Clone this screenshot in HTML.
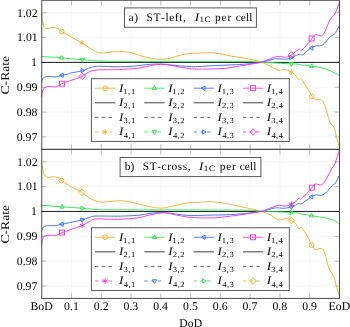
<!DOCTYPE html>
<html><head><meta charset="utf-8"><style>
html,body{margin:0;padding:0;background:#fff;}
svg{display:block;}
text{font-family:"Liberation Serif",serif;fill:#000;text-rendering:geometricPrecision;font-kerning:none;font-variant-ligatures:none;}
.tk{font-size:11.3px;}
.tt{font-size:10.8px;}
.lg{font-size:11px;}
.it{font-style:italic;}
.sub{font-size:7.6px;}
.sub2{font-size:7.6px;}
</style></head><body>
<div style="will-change:transform;width:350px;height:327px"><svg width="350" height="327" viewBox="0 0 350 327">
<rect width="350" height="327" fill="#fff"/>
<path d="M71.53 0.30V149.35M101.30 0.30V149.35M131.07 0.30V149.35M160.85 0.30V149.35M190.62 0.30V149.35M220.40 0.30V149.35M250.18 0.30V149.35M279.95 0.30V149.35M309.73 0.30V149.35M41.75 12.72H339.50M41.75 37.56H339.50M41.75 62.40H339.50M41.75 87.25H339.50M41.75 112.09H339.50M41.75 136.93H339.50" stroke="#ececec" stroke-width="0.5" fill="none"/>
<path d="M71.53 0.30v5M71.53 149.35v-5M101.30 0.30v5M101.30 149.35v-5M131.07 0.30v5M131.07 149.35v-5M160.85 0.30v5M160.85 149.35v-5M190.62 0.30v5M190.62 149.35v-5M220.40 0.30v5M220.40 149.35v-5M250.18 0.30v5M250.18 149.35v-5M279.95 0.30v5M279.95 149.35v-5M309.73 0.30v5M309.73 149.35v-5M41.75 12.72h5M339.50 12.72h-5M41.75 37.56h5M339.50 37.56h-5M41.75 62.40h5M339.50 62.40h-5M41.75 87.25h5M339.50 87.25h-5M41.75 112.09h5M339.50 112.09h-5M41.75 136.93h5M339.50 136.93h-5" stroke="#a8a8a8" stroke-width="0.75" fill="none"/>
<path d="M41.75 62.40H339.50" stroke="#111" stroke-width="0.95"/>
<path d="M41.70 13.80 C41.82 15.00 42.07 18.98 42.40 21.00 C42.73 23.02 43.18 24.68 43.70 25.90 C44.22 27.12 44.68 27.85 45.50 28.30 C46.32 28.75 47.48 28.73 48.60 28.60 C49.72 28.47 51.08 27.70 52.20 27.50 C53.32 27.30 54.28 27.15 55.30 27.40 C56.32 27.65 57.22 28.30 58.30 29.00 C59.38 29.70 60.37 30.68 61.80 31.60 C63.23 32.52 65.03 33.45 66.90 34.50 C68.77 35.55 70.85 36.68 73.00 37.90 C75.15 39.12 77.18 40.23 79.80 41.80 C82.42 43.37 86.07 45.67 88.70 47.30 C91.33 48.93 93.60 50.67 95.60 51.60 C97.60 52.53 98.98 52.70 100.70 52.90 C102.42 53.10 103.90 52.97 105.90 52.80 C107.90 52.63 110.42 52.10 112.70 51.90 C114.98 51.70 117.32 51.57 119.60 51.60 C121.88 51.63 124.67 51.97 126.40 52.10 C128.13 52.23 127.97 51.92 130.00 52.40 C132.03 52.88 135.75 54.13 138.60 55.00 C141.45 55.87 144.25 56.95 147.10 57.60 C149.95 58.25 153.40 58.60 155.70 58.90 C158.00 59.20 158.90 59.42 160.90 59.40 C162.90 59.38 165.13 59.30 167.70 58.80 C170.27 58.30 173.43 57.18 176.30 56.40 C179.17 55.62 182.02 54.60 184.90 54.10 C187.78 53.60 190.73 53.58 193.60 53.40 C196.47 53.22 199.53 53.10 202.10 53.00 C204.67 52.90 206.70 52.77 209.00 52.80 C211.30 52.83 213.62 52.93 215.90 53.20 C218.18 53.47 220.13 53.92 222.70 54.40 C225.27 54.88 228.43 55.60 231.30 56.10 C234.17 56.60 237.02 56.93 239.90 57.40 C242.78 57.87 245.73 58.32 248.60 58.90 C251.47 59.48 254.97 60.35 257.10 60.90 C259.23 61.45 259.97 61.68 261.40 62.20 C262.83 62.72 263.55 62.98 265.70 64.00 C267.85 65.02 272.08 67.20 274.30 68.30 C276.52 69.40 277.62 70.38 279.00 70.60 C280.38 70.82 281.23 69.67 282.60 69.60 C283.97 69.53 285.75 69.80 287.20 70.20 C288.65 70.60 290.08 71.30 291.30 72.00 C292.52 72.70 293.62 73.58 294.50 74.40 C295.38 75.22 295.92 76.07 296.60 76.90 C297.28 77.73 297.87 79.07 298.60 79.40 C299.33 79.73 300.20 78.47 301.00 78.90 C301.80 79.33 302.35 80.43 303.40 82.00 C304.45 83.57 306.27 86.60 307.30 88.30 C308.33 90.00 308.82 90.87 309.60 92.20 C310.38 93.53 311.08 95.03 312.00 96.30 C312.92 97.57 314.10 99.27 315.10 99.80 C316.10 100.33 317.17 99.60 318.00 99.50 C318.83 99.40 319.32 98.97 320.10 99.20 C320.88 99.43 321.85 99.63 322.70 100.90 C323.55 102.17 324.37 104.43 325.20 106.80 C326.03 109.17 326.87 112.45 327.70 115.10 C328.53 117.75 329.22 120.73 330.20 122.70 C331.18 124.67 332.75 125.37 333.60 126.90 C334.45 128.43 334.75 129.93 335.30 131.90 C335.85 133.87 336.25 136.27 336.90 138.70 C337.55 141.13 338.82 145.20 339.20 146.50" stroke="#F3B03C" stroke-width="0.95" fill="none" stroke-linejoin="round"/>
<path d="M41.70 56.30 C42.85 56.42 46.38 56.85 48.60 57.00 C50.82 57.15 52.83 57.05 55.00 57.20 C57.17 57.35 58.95 57.63 61.60 57.90 C64.25 58.17 67.45 58.50 70.90 58.80 C74.35 59.10 78.88 59.42 82.30 59.70 C85.72 59.98 88.45 60.28 91.40 60.50 C94.35 60.72 96.07 60.87 100.00 61.00 C103.93 61.13 108.33 61.23 115.00 61.30 C121.67 61.37 129.17 61.38 140.00 61.40 C150.83 61.42 166.67 61.40 180.00 61.40 C193.33 61.40 208.33 61.38 220.00 61.40 C231.67 61.42 243.10 61.37 250.00 61.50 C256.90 61.63 258.07 62.02 261.40 62.20 C264.73 62.38 267.23 62.43 270.00 62.60 C272.77 62.77 275.50 63.03 278.00 63.20 C280.50 63.37 282.78 63.48 285.00 63.60 C287.22 63.72 289.10 63.80 291.30 63.90 C293.50 64.00 296.32 63.98 298.20 64.20 C300.08 64.42 301.35 65.05 302.60 65.20 C303.85 65.35 304.13 64.90 305.70 65.10 C307.27 65.30 309.90 66.07 312.00 66.40 C314.10 66.73 316.20 66.73 318.30 67.10 C320.40 67.47 322.50 67.95 324.60 68.60 C326.70 69.25 329.07 70.20 330.90 71.00 C332.73 71.80 334.22 72.70 335.60 73.40 C336.98 74.10 338.60 74.90 339.20 75.20" stroke="#36E256" stroke-width="0.95" fill="none" stroke-linejoin="round"/>
<path d="M41.70 82.40 C41.77 82.02 41.80 80.87 42.10 80.10 C42.40 79.33 42.80 78.38 43.50 77.80 C44.20 77.22 45.23 76.83 46.30 76.60 C47.37 76.37 48.53 76.35 49.90 76.40 C51.27 76.45 53.12 76.90 54.50 76.90 C55.88 76.90 56.95 76.67 58.20 76.40 C59.45 76.13 60.47 75.68 62.00 75.30 C63.53 74.92 65.92 74.48 67.40 74.10 C68.88 73.72 68.37 73.57 70.90 73.00 C73.43 72.43 79.55 71.53 82.60 70.70 C85.65 69.87 87.13 68.70 89.20 68.00 C91.27 67.30 93.20 66.80 95.00 66.50 C96.80 66.20 97.17 66.17 100.00 66.20 C102.83 66.23 107.17 66.65 112.00 66.70 C116.83 66.75 124.33 66.72 129.00 66.50 C133.67 66.28 136.45 65.77 140.00 65.40 C143.55 65.03 146.87 64.53 150.30 64.30 C153.73 64.07 157.17 63.90 160.60 64.00 C164.03 64.10 167.48 64.57 170.90 64.90 C174.32 65.23 177.68 65.72 181.10 66.00 C184.52 66.28 188.25 66.52 191.40 66.60 C194.55 66.68 196.55 66.65 200.00 66.50 C203.45 66.35 207.22 65.95 212.10 65.70 C216.98 65.45 224.15 65.23 229.30 65.00 C234.45 64.77 238.72 64.62 243.00 64.30 C247.28 63.98 251.93 63.45 255.00 63.10 C258.07 62.75 259.57 62.55 261.40 62.20 C263.23 61.85 264.57 61.33 266.00 61.00 C267.43 60.67 268.62 60.53 270.00 60.20 C271.38 59.87 272.97 59.22 274.30 59.00 C275.63 58.78 276.47 58.87 278.00 58.90 C279.53 58.93 281.90 59.17 283.50 59.20 C285.10 59.23 286.30 59.37 287.60 59.10 C288.90 58.83 290.08 58.10 291.30 57.60 C292.52 57.10 293.83 56.57 294.90 56.10 C295.97 55.63 296.78 55.10 297.70 54.80 C298.62 54.50 299.63 54.27 300.40 54.30 C301.17 54.33 301.53 55.23 302.30 55.00 C303.07 54.77 303.93 53.78 305.00 52.90 C306.07 52.02 307.60 50.55 308.70 49.70 C309.80 48.85 310.45 48.43 311.60 47.80 C312.75 47.17 314.28 46.22 315.60 45.90 C316.92 45.58 318.35 46.03 319.50 45.90 C320.65 45.77 321.37 45.87 322.50 45.10 C323.63 44.33 325.15 42.57 326.30 41.30 C327.45 40.03 328.37 38.52 329.40 37.50 C330.43 36.48 331.48 35.97 332.50 35.20 C333.52 34.43 334.62 34.05 335.50 32.90 C336.38 31.75 337.15 29.42 337.80 28.30 C338.45 27.18 339.13 26.55 339.40 26.20" stroke="#3F72EC" stroke-width="0.95" fill="none" stroke-linejoin="round"/>
<path d="M41.70 96.60 C41.77 95.98 41.80 94.20 42.10 92.90 C42.40 91.60 42.80 89.78 43.50 88.80 C44.20 87.82 45.23 87.38 46.30 87.00 C47.37 86.62 48.53 86.50 49.90 86.50 C51.27 86.50 53.12 87.07 54.50 87.00 C55.88 86.93 56.95 86.65 58.20 86.10 C59.45 85.55 60.47 84.47 62.00 83.70 C63.53 82.93 65.92 82.05 67.40 81.50 C68.88 80.95 68.42 81.25 70.90 80.40 C73.38 79.55 79.25 77.83 82.30 76.40 C85.35 74.97 87.08 72.83 89.20 71.80 C91.32 70.77 92.60 70.55 95.00 70.20 C97.40 69.85 99.88 69.78 103.60 69.70 C107.32 69.62 113.02 69.83 117.30 69.70 C121.58 69.57 125.52 69.18 129.30 68.90 C133.08 68.62 136.50 68.53 140.00 68.00 C143.50 67.47 146.87 66.32 150.30 65.70 C153.73 65.08 157.17 64.35 160.60 64.30 C164.03 64.25 167.48 64.88 170.90 65.40 C174.32 65.92 177.68 66.83 181.10 67.40 C184.52 67.97 188.25 68.52 191.40 68.80 C194.55 69.08 197.68 69.05 200.00 69.10 C202.32 69.15 202.70 69.15 205.30 69.10 C207.90 69.05 212.17 68.93 215.60 68.80 C219.03 68.67 222.48 68.67 225.90 68.30 C229.32 67.93 232.68 67.17 236.10 66.60 C239.52 66.03 243.25 65.42 246.40 64.90 C249.55 64.38 252.50 63.95 255.00 63.50 C257.50 63.05 259.57 62.72 261.40 62.20 C263.23 61.68 264.57 60.95 266.00 60.40 C267.43 59.85 268.62 59.42 270.00 58.90 C271.38 58.38 272.97 57.70 274.30 57.30 C275.63 56.90 276.55 56.55 278.00 56.50 C279.45 56.45 281.40 56.92 283.00 57.00 C284.60 57.08 286.22 57.33 287.60 57.00 C288.98 56.67 290.23 55.68 291.30 55.00 C292.37 54.32 293.08 53.63 294.00 52.90 C294.92 52.17 295.88 51.20 296.80 50.60 C297.72 50.00 298.75 49.35 299.50 49.30 C300.25 49.25 300.53 50.53 301.30 50.30 C302.07 50.07 303.02 48.98 304.10 47.90 C305.18 46.82 306.80 44.95 307.80 43.80 C308.80 42.65 309.47 41.83 310.10 41.00 C310.73 40.17 310.80 39.82 311.60 38.80 C312.40 37.78 313.97 35.55 314.90 34.90 C315.83 34.25 316.32 34.75 317.20 34.90 C318.08 35.05 319.32 35.75 320.20 35.80 C321.08 35.85 321.73 35.82 322.50 35.20 C323.27 34.58 323.90 33.88 324.80 32.10 C325.70 30.32 326.88 26.80 327.90 24.50 C328.92 22.20 329.88 19.83 330.90 18.30 C331.92 16.77 333.10 16.57 334.00 15.30 C334.90 14.03 335.53 12.48 336.30 10.70 C337.07 8.92 338.08 6.05 338.60 4.60 C339.12 3.15 339.27 2.43 339.40 2.00" stroke="#F03CD8" stroke-width="0.95" fill="none" stroke-linejoin="round"/>
<circle cx="61.80" cy="31.60" r="2.40" fill="none" stroke="#F3B03C" stroke-width="0.95"/>
<path d="M82.00 40.00L82.00 45.40M84.34 41.35L79.66 44.05M84.34 44.05L79.66 41.35" stroke="#F3B03C" stroke-width="0.95" fill="none"/>
<path d="M291.30 69.30L291.30 74.70M293.64 70.65L288.96 73.35M293.64 73.35L288.96 70.65" stroke="#F3B03C" stroke-width="0.95" fill="none"/>
<circle cx="311.90" cy="96.30" r="2.40" fill="none" stroke="#F3B03C" stroke-width="0.95"/>
<path d="M61.70 55.40L63.88 59.15L59.53 59.15Z" fill="none" stroke="#36E256" stroke-width="0.95"/>
<path d="M82.20 62.10L84.38 58.35L80.03 58.35Z" fill="none" stroke="#36E256" stroke-width="0.95"/>
<path d="M291.30 66.30L293.48 62.55L289.12 62.55Z" fill="none" stroke="#36E256" stroke-width="0.95"/>
<path d="M311.90 63.80L314.07 67.55L309.72 67.55Z" fill="none" stroke="#36E256" stroke-width="0.95"/>
<path d="M59.50 75.30L63.25 73.12L63.25 77.47Z" fill="none" stroke="#3F72EC" stroke-width="0.95"/>
<path d="M84.90 70.60L81.15 68.42L81.15 72.77Z" fill="none" stroke="#3F72EC" stroke-width="0.95"/>
<path d="M293.50 57.50L289.75 55.33L289.75 59.67Z" fill="none" stroke="#3F72EC" stroke-width="0.95"/>
<path d="M309.10 48.00L312.85 45.83L312.85 50.17Z" fill="none" stroke="#3F72EC" stroke-width="0.95"/>
<rect x="59.50" y="81.20" width="5.00" height="5.00" fill="none" stroke="#F03CD8" stroke-width="0.95"/>
<path d="M82.30 73.10L85.60 76.40L82.30 79.70L79.00 76.40Z" fill="none" stroke="#F03CD8" stroke-width="0.95"/>
<path d="M291.30 51.60L294.60 54.90L291.30 58.20L288.00 54.90Z" fill="none" stroke="#F03CD8" stroke-width="0.95"/>
<rect x="309.10" y="36.00" width="5.00" height="5.00" fill="none" stroke="#F03CD8" stroke-width="0.95"/>
<text transform="matrix(1.1800 0 0 1.1800 17.00 16.52)" font-size="10">1.02</text>
<text transform="matrix(1.1800 0 0 1.1800 17.06 41.36)" font-size="10">1.01</text>
<text transform="matrix(1.1800 0 0 1.1800 31.11 66.20)" font-size="10">1</text>
<text transform="matrix(1.1800 0 0 1.1800 16.83 91.05)" font-size="10">0.99</text>
<text transform="matrix(1.1800 0 0 1.1800 16.80 115.89)" font-size="10">0.98</text>
<text transform="matrix(1.1800 0 0 1.1800 16.69 140.73)" font-size="10">0.97</text>
<g transform="translate(8.80 75.12) rotate(-90)"><text transform="matrix(1.3639 0 0 1.1900 -19.36 0)" font-size="10">C-Rate</text></g>
<rect x="124.45" y="7.90" width="131.95" height="19.40" fill="#fff" stroke="#505050" stroke-width="0.95"/>
<text x="128.40" y="21.10" font-size="11.40" letter-spacing="0.746">a)</text><text x="146.54" y="21.10" font-size="11.40" letter-spacing="0.606">ST-left,</text><text transform="matrix(1.3110 0 0 1.1400 194.69 21.10)" font-size="10" font-style="italic">I</text><text transform="matrix(0.9020 0 0 0.8200 199.41 22.30)" font-size="10" letter-spacing="0.625">1C</text><text x="215.12" y="21.10" font-size="11.40" letter-spacing="0.814">per</text><text x="235.67" y="21.10" font-size="11.40" letter-spacing="0.069">cell</text>
<rect x="91.40" y="78.70" width="197.90" height="62.70" fill="#fff" stroke="#505050" stroke-width="0.95"/>
<path d="M95.00 88.20h20.3" stroke="#F3B03C" stroke-width="0.85"/>
<circle cx="105.15" cy="88.20" r="2.40" fill="none" stroke="#F3B03C" stroke-width="0.95"/>
<text transform="matrix(1.3110 0 0 1.1400 118.89 91.50)" font-size="10" font-style="italic">I</text>
<text transform="matrix(0.8580 0 0 0.7800 123.05 93.80)" font-size="10" letter-spacing="0.900">1,1</text>
<path d="M144.30 88.20h20.3" stroke="#36E256" stroke-width="0.85"/>
<path d="M154.45 85.70L156.63 89.45L152.28 89.45Z" fill="none" stroke="#36E256" stroke-width="0.95"/>
<text transform="matrix(1.3110 0 0 1.1400 168.19 91.50)" font-size="10" font-style="italic">I</text>
<text transform="matrix(0.8580 0 0 0.7800 172.35 93.80)" font-size="10" letter-spacing="0.876">1,2</text>
<path d="M193.60 88.20h20.3" stroke="#3F72EC" stroke-width="0.85"/>
<path d="M201.25 88.20L205.00 86.03L205.00 90.38Z" fill="none" stroke="#3F72EC" stroke-width="0.95"/>
<text transform="matrix(1.3110 0 0 1.1400 217.49 91.50)" font-size="10" font-style="italic">I</text>
<text transform="matrix(0.8580 0 0 0.7800 221.65 93.80)" font-size="10" letter-spacing="0.795">1,3</text>
<path d="M242.90 88.20h20.3" stroke="#F03CD8" stroke-width="0.85"/>
<rect x="250.55" y="85.70" width="5.00" height="5.00" fill="none" stroke="#F03CD8" stroke-width="0.95"/>
<text transform="matrix(1.3110 0 0 1.1400 266.79 91.50)" font-size="10" font-style="italic">I</text>
<text transform="matrix(0.8580 0 0 0.7800 270.95 93.80)" font-size="10" letter-spacing="0.678">1,4</text>
<path d="M95.00 102.75h20.3" stroke="#5a5a5a" stroke-width="1.15"/>
<text transform="matrix(1.3110 0 0 1.1400 118.89 106.05)" font-size="10" font-style="italic">I</text>
<text transform="matrix(0.8580 0 0 0.7800 123.42 108.35)" font-size="10" letter-spacing="0.680">2,1</text>
<path d="M144.30 102.75h20.3" stroke="#5a5a5a" stroke-width="1.15"/>
<text transform="matrix(1.3110 0 0 1.1400 168.19 106.05)" font-size="10" font-style="italic">I</text>
<text transform="matrix(0.8580 0 0 0.7800 172.72 108.35)" font-size="10" letter-spacing="0.656">2,2</text>
<path d="M193.60 102.75h20.3" stroke="#5a5a5a" stroke-width="1.15"/>
<text transform="matrix(1.3110 0 0 1.1400 217.49 106.05)" font-size="10" font-style="italic">I</text>
<text transform="matrix(0.8580 0 0 0.7800 222.02 108.35)" font-size="10" letter-spacing="0.575">2,3</text>
<path d="M242.90 102.75h20.3" stroke="#5a5a5a" stroke-width="1.15"/>
<text transform="matrix(1.3110 0 0 1.1400 266.79 106.05)" font-size="10" font-style="italic">I</text>
<text transform="matrix(0.8580 0 0 0.7800 271.32 108.35)" font-size="10" letter-spacing="0.458">2,4</text>
<path d="M95.00 117.35h20.3" stroke="#222" stroke-width="0.7" stroke-dasharray="3.4 3.35"/>
<text transform="matrix(1.3110 0 0 1.1400 118.89 120.65)" font-size="10" font-style="italic">I</text>
<text transform="matrix(0.8580 0 0 0.7800 123.39 122.95)" font-size="10" letter-spacing="0.700">3,1</text>
<path d="M144.30 117.35h20.3" stroke="#222" stroke-width="0.7" stroke-dasharray="3.4 3.35"/>
<text transform="matrix(1.3110 0 0 1.1400 168.19 120.65)" font-size="10" font-style="italic">I</text>
<text transform="matrix(0.8580 0 0 0.7800 172.69 122.95)" font-size="10" letter-spacing="0.675">3,2</text>
<path d="M193.60 117.35h20.3" stroke="#222" stroke-width="0.7" stroke-dasharray="3.4 3.35"/>
<text transform="matrix(1.3110 0 0 1.1400 217.49 120.65)" font-size="10" font-style="italic">I</text>
<text transform="matrix(0.8580 0 0 0.7800 221.99 122.95)" font-size="10" letter-spacing="0.595">3,3</text>
<path d="M242.90 117.35h20.3" stroke="#222" stroke-width="0.7" stroke-dasharray="3.4 3.35"/>
<text transform="matrix(1.3110 0 0 1.1400 266.79 120.65)" font-size="10" font-style="italic">I</text>
<text transform="matrix(0.8580 0 0 0.7800 271.29 122.95)" font-size="10" letter-spacing="0.478">3,4</text>
<path d="M95.00 131.95h20.3" stroke="#F3B03C" stroke-width="0.85" stroke-dasharray="3.4 3.35"/>
<path d="M105.15 129.25L105.15 134.65M107.49 130.60L102.81 133.30M107.49 133.30L102.81 130.60" stroke="#F3B03C" stroke-width="0.95" fill="none"/>
<text transform="matrix(1.3110 0 0 1.1400 118.89 135.25)" font-size="10" font-style="italic">I</text>
<text transform="matrix(0.8580 0 0 0.7800 123.63 137.55)" font-size="10" letter-spacing="0.558">4,1</text>
<path d="M144.30 131.95h20.3" stroke="#36E256" stroke-width="0.85" stroke-dasharray="3.4 3.35"/>
<path d="M154.45 134.45L156.63 130.70L152.28 130.70Z" fill="none" stroke="#36E256" stroke-width="0.95"/>
<text transform="matrix(1.3110 0 0 1.1400 168.19 135.25)" font-size="10" font-style="italic">I</text>
<text transform="matrix(0.8580 0 0 0.7800 172.93 137.55)" font-size="10" letter-spacing="0.534">4,2</text>
<path d="M193.60 131.95h20.3" stroke="#3F72EC" stroke-width="0.85" stroke-dasharray="3.4 3.35"/>
<path d="M206.25 131.95L202.50 129.78L202.50 134.13Z" fill="none" stroke="#3F72EC" stroke-width="0.95"/>
<text transform="matrix(1.3110 0 0 1.1400 217.49 135.25)" font-size="10" font-style="italic">I</text>
<text transform="matrix(0.8580 0 0 0.7800 222.23 137.55)" font-size="10" letter-spacing="0.453">4,3</text>
<path d="M242.90 131.95h20.3" stroke="#F03CD8" stroke-width="0.85" stroke-dasharray="3.4 3.35"/>
<path d="M253.05 128.65L256.35 131.95L253.05 135.25L249.75 131.95Z" fill="none" stroke="#F03CD8" stroke-width="0.95"/>
<text transform="matrix(1.3110 0 0 1.1400 266.79 135.25)" font-size="10" font-style="italic">I</text>
<text transform="matrix(0.8580 0 0 0.7800 271.53 137.55)" font-size="10" letter-spacing="0.336">4,4</text>
<rect x="41.75" y="0.30" width="297.75" height="149.05" fill="none" stroke="#4a4a4a" stroke-width="1.0"/>
<path d="M71.53 149.35V298.40M101.30 149.35V298.40M131.07 149.35V298.40M160.85 149.35V298.40M190.62 149.35V298.40M220.40 149.35V298.40M250.18 149.35V298.40M279.95 149.35V298.40M309.73 149.35V298.40M41.75 161.77H339.50M41.75 186.61H339.50M41.75 211.45H339.50M41.75 236.30H339.50M41.75 261.14H339.50M41.75 285.98H339.50" stroke="#ececec" stroke-width="0.5" fill="none"/>
<path d="M71.53 149.35v5M71.53 298.40v-5M101.30 149.35v5M101.30 298.40v-5M131.07 149.35v5M131.07 298.40v-5M160.85 149.35v5M160.85 298.40v-5M190.62 149.35v5M190.62 298.40v-5M220.40 149.35v5M220.40 298.40v-5M250.18 149.35v5M250.18 298.40v-5M279.95 149.35v5M279.95 298.40v-5M309.73 149.35v5M309.73 298.40v-5M41.75 161.77h5M339.50 161.77h-5M41.75 186.61h5M339.50 186.61h-5M41.75 211.45h5M339.50 211.45h-5M41.75 236.30h5M339.50 236.30h-5M41.75 261.14h5M339.50 261.14h-5M41.75 285.98h5M339.50 285.98h-5" stroke="#a8a8a8" stroke-width="0.75" fill="none"/>
<path d="M41.75 211.45H339.50" stroke="#111" stroke-width="0.95"/>
<path d="M41.70 163.80 C41.85 164.55 42.15 166.47 42.60 168.30 C43.05 170.13 43.48 173.27 44.40 174.80 C45.32 176.33 46.57 177.20 48.10 177.50 C49.63 177.80 51.92 176.53 53.60 176.60 C55.28 176.67 56.88 177.23 58.20 177.90 C59.52 178.57 59.67 179.32 61.50 180.60 C63.33 181.88 66.70 184.13 69.20 185.60 C71.70 187.07 74.42 188.28 76.50 189.40 C78.58 190.52 79.87 191.10 81.70 192.30 C83.53 193.50 85.62 195.33 87.50 196.60 C89.38 197.87 91.25 199.07 93.00 199.90 C94.75 200.73 96.52 201.23 98.00 201.60 C99.48 201.97 100.12 202.10 101.90 202.10 C103.68 202.10 105.85 201.83 108.70 201.60 C111.55 201.37 116.13 200.77 119.00 200.70 C121.87 200.63 123.33 200.83 125.90 201.20 C128.47 201.57 131.55 202.27 134.40 202.90 C137.25 203.53 140.13 204.30 143.00 205.00 C145.87 205.70 149.27 206.63 151.60 207.10 C153.93 207.57 154.98 207.65 157.00 207.80 C159.02 207.95 160.58 208.40 163.70 208.00 C166.82 207.60 171.70 206.25 175.70 205.40 C179.70 204.55 183.98 203.42 187.70 202.90 C191.42 202.38 194.28 202.50 198.00 202.30 C201.72 202.10 207.12 201.75 210.00 201.70 C212.88 201.65 212.70 201.72 215.30 202.00 C217.90 202.28 221.60 202.68 225.60 203.40 C229.60 204.12 235.02 205.38 239.30 206.30 C243.58 207.22 247.60 208.07 251.30 208.90 C255.00 209.73 258.72 210.48 261.50 211.30 C264.28 212.12 266.30 213.08 268.00 213.80 C269.70 214.52 270.48 214.83 271.70 215.60 C272.92 216.37 274.08 217.67 275.30 218.40 C276.52 219.13 277.77 219.85 279.00 220.00 C280.23 220.15 281.48 219.53 282.70 219.30 C283.92 219.07 284.85 218.38 286.30 218.60 C287.75 218.82 289.87 219.82 291.40 220.60 C292.93 221.38 294.28 221.97 295.50 223.30 C296.72 224.63 297.73 227.93 298.70 228.60 C299.67 229.27 300.15 226.52 301.30 227.30 C302.45 228.08 304.32 231.30 305.60 233.30 C306.88 235.30 308.00 237.33 309.00 239.30 C310.00 241.27 310.57 243.45 311.60 245.10 C312.63 246.75 313.73 248.63 315.20 249.20 C316.67 249.77 319.02 248.35 320.40 248.50 C321.78 248.65 322.52 248.45 323.50 250.10 C324.48 251.75 325.38 255.33 326.30 258.40 C327.22 261.47 327.93 265.75 329.00 268.50 C330.07 271.25 331.78 273.22 332.70 274.90 C333.62 276.58 333.88 276.75 334.50 278.60 C335.12 280.45 335.62 283.18 336.40 286.00 C337.18 288.82 338.73 293.92 339.20 295.50" stroke="#F3B03C" stroke-width="0.95" fill="none" stroke-linejoin="round"/>
<path d="M41.70 205.30 C43.37 205.43 48.32 205.83 51.70 206.10 C55.08 206.37 58.57 206.68 62.00 206.90 C65.43 207.12 68.93 207.17 72.30 207.40 C75.67 207.63 77.92 207.95 82.20 208.30 C86.48 208.65 93.37 209.25 98.00 209.50 C102.63 209.75 101.33 209.73 110.00 209.80 C118.67 209.87 135.00 209.88 150.00 209.90 C165.00 209.93 184.17 209.90 200.00 209.95 C215.83 210.00 235.83 210.09 245.00 210.20 C254.17 210.31 252.25 210.42 255.00 210.60 C257.75 210.78 258.67 211.12 261.50 211.30 C264.33 211.48 268.58 211.58 272.00 211.70 C275.42 211.82 278.77 211.87 282.00 212.00 C285.23 212.13 288.62 212.30 291.40 212.50 C294.18 212.70 296.92 212.92 298.70 213.20 C300.48 213.48 299.95 213.80 302.10 214.20 C304.25 214.60 308.73 215.13 311.60 215.60 C314.47 216.07 316.58 216.53 319.30 217.00 C322.02 217.47 325.33 217.77 327.90 218.40 C330.47 219.03 332.80 219.88 334.70 220.80 C336.60 221.72 338.53 223.38 339.30 223.90" stroke="#36E256" stroke-width="0.95" fill="none" stroke-linejoin="round"/>
<path d="M41.60 231.50 C41.85 230.82 42.27 228.33 43.10 227.40 C43.93 226.47 45.73 226.20 46.60 225.90 C47.47 225.60 46.88 225.65 48.30 225.60 C49.72 225.55 52.82 225.83 55.10 225.60 C57.38 225.37 59.13 224.78 62.00 224.20 C64.87 223.62 68.93 222.82 72.30 222.10 C75.67 221.38 79.35 220.68 82.20 219.90 C85.05 219.12 87.27 218.03 89.40 217.40 C91.53 216.77 91.78 216.32 95.00 216.10 C98.22 215.88 104.42 216.10 108.70 216.10 C112.98 216.10 115.83 216.23 120.70 216.10 C125.57 215.97 133.02 215.75 137.90 215.30 C142.78 214.85 145.70 213.85 150.00 213.40 C154.30 212.95 159.42 212.50 163.70 212.60 C167.98 212.70 171.70 213.53 175.70 214.00 C179.70 214.47 183.42 215.17 187.70 215.40 C191.98 215.63 197.68 215.45 201.40 215.40 C205.12 215.35 206.55 215.18 210.00 215.10 C213.45 215.02 217.22 215.08 222.10 214.90 C226.98 214.72 234.15 214.38 239.30 214.00 C244.45 213.62 249.30 213.05 253.00 212.60 C256.70 212.15 259.33 211.67 261.50 211.30 C263.67 210.93 264.58 210.73 266.00 210.40 C267.42 210.07 268.67 209.68 270.00 209.30 C271.33 208.92 272.80 208.35 274.00 208.10 C275.20 207.85 275.90 207.78 277.20 207.80 C278.50 207.82 280.28 208.17 281.80 208.20 C283.32 208.23 284.70 208.22 286.30 208.00 C287.90 207.78 289.87 207.33 291.40 206.90 C292.93 206.47 294.28 205.98 295.50 205.40 C296.72 204.82 297.72 203.68 298.70 203.40 C299.68 203.12 300.18 204.17 301.40 203.70 C302.62 203.23 304.32 201.73 306.00 200.60 C307.68 199.47 309.97 197.83 311.50 196.90 C313.03 195.97 313.35 195.32 315.20 195.00 C317.05 194.68 320.45 195.77 322.60 195.00 C324.75 194.23 326.57 191.93 328.10 190.40 C329.63 188.87 330.58 187.02 331.80 185.80 C333.02 184.58 334.17 184.78 335.40 183.10 C336.63 181.42 338.57 176.93 339.20 175.70" stroke="#3F72EC" stroke-width="0.95" fill="none" stroke-linejoin="round"/>
<path d="M41.60 245.90 C41.72 244.83 41.75 241.17 42.30 239.50 C42.85 237.83 43.62 236.62 44.90 235.90 C46.18 235.18 48.30 235.23 50.00 235.20 C51.70 235.17 53.10 236.13 55.10 235.70 C57.10 235.27 59.13 233.72 62.00 232.60 C64.87 231.48 68.93 230.18 72.30 229.00 C75.67 227.82 79.35 226.73 82.20 225.50 C85.05 224.27 87.27 222.68 89.40 221.60 C91.53 220.52 91.78 219.40 95.00 219.00 C98.22 218.60 104.42 219.17 108.70 219.20 C112.98 219.23 115.83 219.42 120.70 219.20 C125.57 218.98 133.02 218.62 137.90 217.90 C142.78 217.18 145.70 215.75 150.00 214.90 C154.30 214.05 159.42 212.80 163.70 212.80 C167.98 212.80 171.70 214.18 175.70 214.90 C179.70 215.62 183.42 216.62 187.70 217.10 C191.98 217.58 196.80 217.68 201.40 217.80 C206.00 217.92 210.42 218.08 215.30 217.80 C220.18 217.52 225.27 216.78 230.70 216.10 C236.13 215.42 242.77 214.50 247.90 213.70 C253.03 212.90 258.48 211.95 261.50 211.30 C264.52 210.65 264.58 210.32 266.00 209.80 C267.42 209.28 268.67 208.72 270.00 208.20 C271.33 207.68 272.80 207.13 274.00 206.70 C275.20 206.27 275.90 205.78 277.20 205.60 C278.50 205.42 280.28 205.53 281.80 205.60 C283.32 205.67 284.70 206.23 286.30 206.00 C287.90 205.77 289.87 204.88 291.40 204.20 C292.93 203.52 294.28 202.87 295.50 201.90 C296.72 200.93 297.87 198.87 298.70 198.40 C299.53 197.93 299.58 199.50 300.50 199.10 C301.42 198.70 302.97 197.08 304.20 196.00 C305.43 194.92 306.62 193.98 307.90 192.60 C309.18 191.22 310.68 189.13 311.90 187.70 C313.12 186.27 313.73 184.47 315.20 184.00 C316.67 183.53 319.17 185.20 320.70 184.90 C322.23 184.60 323.02 184.03 324.40 182.20 C325.78 180.37 327.77 176.20 329.00 173.90 C330.23 171.60 330.88 169.93 331.80 168.40 C332.72 166.87 333.73 166.23 334.50 164.70 C335.27 163.17 335.62 161.50 336.40 159.20 C337.18 156.90 338.73 152.28 339.20 150.90" stroke="#F03CD8" stroke-width="0.95" fill="none" stroke-linejoin="round"/>
<circle cx="61.50" cy="180.60" r="2.40" fill="none" stroke="#F3B03C" stroke-width="0.95"/>
<path d="M81.80 189.00L85.10 192.30L81.80 195.60L78.50 192.30Z" fill="none" stroke="#F3B03C" stroke-width="0.95"/>
<path d="M291.40 217.30L294.70 220.60L291.40 223.90L288.10 220.60Z" fill="none" stroke="#F3B03C" stroke-width="0.95"/>
<circle cx="311.60" cy="245.10" r="2.40" fill="none" stroke="#F3B03C" stroke-width="0.95"/>
<path d="M62.00 204.40L64.17 208.15L59.83 208.15Z" fill="none" stroke="#36E256" stroke-width="0.95"/>
<path d="M84.70 208.30L80.95 206.12L80.95 210.48Z" fill="none" stroke="#36E256" stroke-width="0.95"/>
<path d="M293.90 212.50L290.15 210.32L290.15 214.68Z" fill="none" stroke="#36E256" stroke-width="0.95"/>
<path d="M311.60 213.10L313.78 216.85L309.43 216.85Z" fill="none" stroke="#36E256" stroke-width="0.95"/>
<path d="M59.50 224.20L63.25 222.02L63.25 226.38Z" fill="none" stroke="#3F72EC" stroke-width="0.95"/>
<path d="M82.20 222.40L84.38 218.65L80.03 218.65Z" fill="none" stroke="#3F72EC" stroke-width="0.95"/>
<path d="M291.40 209.40L293.57 205.65L289.22 205.65Z" fill="none" stroke="#3F72EC" stroke-width="0.95"/>
<path d="M309.00 196.90L312.75 194.72L312.75 199.08Z" fill="none" stroke="#3F72EC" stroke-width="0.95"/>
<rect x="59.50" y="230.10" width="5.00" height="5.00" fill="none" stroke="#F03CD8" stroke-width="0.95"/>
<path d="M82.20 222.80L82.20 228.20M84.54 224.15L79.86 226.85M84.54 226.85L79.86 224.15" stroke="#F03CD8" stroke-width="0.95" fill="none"/>
<path d="M291.40 201.50L291.40 206.90M293.74 202.85L289.06 205.55M293.74 205.55L289.06 202.85" stroke="#F03CD8" stroke-width="0.95" fill="none"/>
<rect x="309.40" y="185.20" width="5.00" height="5.00" fill="none" stroke="#F03CD8" stroke-width="0.95"/>
<text transform="matrix(1.1800 0 0 1.1800 17.00 165.57)" font-size="10">1.02</text>
<text transform="matrix(1.1800 0 0 1.1800 17.06 190.41)" font-size="10">1.01</text>
<text transform="matrix(1.1800 0 0 1.1800 31.11 215.25)" font-size="10">1</text>
<text transform="matrix(1.1800 0 0 1.1800 16.83 240.10)" font-size="10">0.99</text>
<text transform="matrix(1.1800 0 0 1.1800 16.80 264.94)" font-size="10">0.98</text>
<text transform="matrix(1.1800 0 0 1.1800 16.69 289.78)" font-size="10">0.97</text>
<g transform="translate(8.80 224.18) rotate(-90)"><text transform="matrix(1.3639 0 0 1.1900 -19.36 0)" font-size="10">C-Rate</text></g>
<rect x="120.10" y="157.50" width="140.80" height="19.10" fill="#fff" stroke="#505050" stroke-width="0.95"/>
<text x="124.80" y="170.15" font-size="11.40" letter-spacing="0.105">b)</text><text x="142.84" y="170.15" font-size="11.40" letter-spacing="0.550">ST-cross,</text><text transform="matrix(1.3110 0 0 1.1400 198.99 170.15)" font-size="10" font-style="italic">I</text><text transform="matrix(0.9020 0 0 0.8200 203.71 171.35)" font-size="10" letter-spacing="0.736">1C</text><text x="219.82" y="170.15" font-size="11.40" letter-spacing="0.764">per</text><text x="239.67" y="170.15" font-size="11.40" letter-spacing="0.136">cell</text>
<rect x="91.40" y="227.75" width="197.90" height="62.70" fill="#fff" stroke="#505050" stroke-width="0.95"/>
<path d="M95.00 237.25h20.3" stroke="#F3B03C" stroke-width="0.85"/>
<circle cx="105.15" cy="237.25" r="2.40" fill="none" stroke="#F3B03C" stroke-width="0.95"/>
<text transform="matrix(1.3110 0 0 1.1400 118.89 240.55)" font-size="10" font-style="italic">I</text>
<text transform="matrix(0.8580 0 0 0.7800 123.05 242.85)" font-size="10" letter-spacing="0.900">1,1</text>
<path d="M144.30 237.25h20.3" stroke="#36E256" stroke-width="0.85"/>
<path d="M154.45 234.75L156.63 238.50L152.28 238.50Z" fill="none" stroke="#36E256" stroke-width="0.95"/>
<text transform="matrix(1.3110 0 0 1.1400 168.19 240.55)" font-size="10" font-style="italic">I</text>
<text transform="matrix(0.8580 0 0 0.7800 172.35 242.85)" font-size="10" letter-spacing="0.876">1,2</text>
<path d="M193.60 237.25h20.3" stroke="#3F72EC" stroke-width="0.85"/>
<path d="M201.25 237.25L205.00 235.08L205.00 239.43Z" fill="none" stroke="#3F72EC" stroke-width="0.95"/>
<text transform="matrix(1.3110 0 0 1.1400 217.49 240.55)" font-size="10" font-style="italic">I</text>
<text transform="matrix(0.8580 0 0 0.7800 221.65 242.85)" font-size="10" letter-spacing="0.795">1,3</text>
<path d="M242.90 237.25h20.3" stroke="#F03CD8" stroke-width="0.85"/>
<rect x="250.55" y="234.75" width="5.00" height="5.00" fill="none" stroke="#F03CD8" stroke-width="0.95"/>
<text transform="matrix(1.3110 0 0 1.1400 266.79 240.55)" font-size="10" font-style="italic">I</text>
<text transform="matrix(0.8580 0 0 0.7800 270.95 242.85)" font-size="10" letter-spacing="0.678">1,4</text>
<path d="M95.00 251.80h20.3" stroke="#5a5a5a" stroke-width="1.15"/>
<text transform="matrix(1.3110 0 0 1.1400 118.89 255.10)" font-size="10" font-style="italic">I</text>
<text transform="matrix(0.8580 0 0 0.7800 123.42 257.40)" font-size="10" letter-spacing="0.680">2,1</text>
<path d="M144.30 251.80h20.3" stroke="#5a5a5a" stroke-width="1.15"/>
<text transform="matrix(1.3110 0 0 1.1400 168.19 255.10)" font-size="10" font-style="italic">I</text>
<text transform="matrix(0.8580 0 0 0.7800 172.72 257.40)" font-size="10" letter-spacing="0.656">2,2</text>
<path d="M193.60 251.80h20.3" stroke="#5a5a5a" stroke-width="1.15"/>
<text transform="matrix(1.3110 0 0 1.1400 217.49 255.10)" font-size="10" font-style="italic">I</text>
<text transform="matrix(0.8580 0 0 0.7800 222.02 257.40)" font-size="10" letter-spacing="0.575">2,3</text>
<path d="M242.90 251.80h20.3" stroke="#5a5a5a" stroke-width="1.15"/>
<text transform="matrix(1.3110 0 0 1.1400 266.79 255.10)" font-size="10" font-style="italic">I</text>
<text transform="matrix(0.8580 0 0 0.7800 271.32 257.40)" font-size="10" letter-spacing="0.458">2,4</text>
<path d="M95.00 266.40h20.3" stroke="#222" stroke-width="0.7" stroke-dasharray="3.4 3.35"/>
<text transform="matrix(1.3110 0 0 1.1400 118.89 269.70)" font-size="10" font-style="italic">I</text>
<text transform="matrix(0.8580 0 0 0.7800 123.39 272.00)" font-size="10" letter-spacing="0.700">3,1</text>
<path d="M144.30 266.40h20.3" stroke="#222" stroke-width="0.7" stroke-dasharray="3.4 3.35"/>
<text transform="matrix(1.3110 0 0 1.1400 168.19 269.70)" font-size="10" font-style="italic">I</text>
<text transform="matrix(0.8580 0 0 0.7800 172.69 272.00)" font-size="10" letter-spacing="0.675">3,2</text>
<path d="M193.60 266.40h20.3" stroke="#222" stroke-width="0.7" stroke-dasharray="3.4 3.35"/>
<text transform="matrix(1.3110 0 0 1.1400 217.49 269.70)" font-size="10" font-style="italic">I</text>
<text transform="matrix(0.8580 0 0 0.7800 221.99 272.00)" font-size="10" letter-spacing="0.595">3,3</text>
<path d="M242.90 266.40h20.3" stroke="#222" stroke-width="0.7" stroke-dasharray="3.4 3.35"/>
<text transform="matrix(1.3110 0 0 1.1400 266.79 269.70)" font-size="10" font-style="italic">I</text>
<text transform="matrix(0.8580 0 0 0.7800 271.29 272.00)" font-size="10" letter-spacing="0.478">3,4</text>
<path d="M95.00 281.00h20.3" stroke="#F03CD8" stroke-width="0.85" stroke-dasharray="3.4 3.35"/>
<path d="M105.15 278.30L105.15 283.70M107.49 279.65L102.81 282.35M107.49 282.35L102.81 279.65" stroke="#F03CD8" stroke-width="0.95" fill="none"/>
<text transform="matrix(1.3110 0 0 1.1400 118.89 284.30)" font-size="10" font-style="italic">I</text>
<text transform="matrix(0.8580 0 0 0.7800 123.63 286.60)" font-size="10" letter-spacing="0.558">4,1</text>
<path d="M144.30 281.00h20.3" stroke="#3F72EC" stroke-width="0.85" stroke-dasharray="3.4 3.35"/>
<path d="M154.45 283.50L156.63 279.75L152.28 279.75Z" fill="none" stroke="#3F72EC" stroke-width="0.95"/>
<text transform="matrix(1.3110 0 0 1.1400 168.19 284.30)" font-size="10" font-style="italic">I</text>
<text transform="matrix(0.8580 0 0 0.7800 172.93 286.60)" font-size="10" letter-spacing="0.534">4,2</text>
<path d="M193.60 281.00h20.3" stroke="#36E256" stroke-width="0.85" stroke-dasharray="3.4 3.35"/>
<path d="M206.25 281.00L202.50 278.82L202.50 283.18Z" fill="none" stroke="#36E256" stroke-width="0.95"/>
<text transform="matrix(1.3110 0 0 1.1400 217.49 284.30)" font-size="10" font-style="italic">I</text>
<text transform="matrix(0.8580 0 0 0.7800 222.23 286.60)" font-size="10" letter-spacing="0.453">4,3</text>
<path d="M242.90 281.00h20.3" stroke="#F3B03C" stroke-width="0.85" stroke-dasharray="3.4 3.35"/>
<path d="M253.05 277.70L256.35 281.00L253.05 284.30L249.75 281.00Z" fill="none" stroke="#F3B03C" stroke-width="0.95"/>
<text transform="matrix(1.3110 0 0 1.1400 266.79 284.30)" font-size="10" font-style="italic">I</text>
<text transform="matrix(0.8580 0 0 0.7800 271.53 286.60)" font-size="10" letter-spacing="0.336">4,4</text>
<rect x="41.75" y="149.35" width="297.75" height="149.05" fill="none" stroke="#4a4a4a" stroke-width="1.0"/>
<text transform="matrix(1.1800 0 0 1.1800 30.47 310.30)" font-size="10">BoD</text>
<text transform="matrix(1.1800 0 0 1.1800 64.08 310.30)" font-size="10">0.1</text>
<text transform="matrix(1.1800 0 0 1.1800 93.83 310.30)" font-size="10">0.2</text>
<text transform="matrix(1.1800 0 0 1.1800 123.51 310.30)" font-size="10">0.3</text>
<text transform="matrix(1.1800 0 0 1.1800 153.14 310.30)" font-size="10">0.4</text>
<text transform="matrix(1.1800 0 0 1.1800 183.06 310.30)" font-size="10">0.5</text>
<text transform="matrix(1.1800 0 0 1.1800 212.78 310.30)" font-size="10">0.6</text>
<text transform="matrix(1.1800 0 0 1.1800 242.55 310.30)" font-size="10">0.7</text>
<text transform="matrix(1.1800 0 0 1.1800 272.38 310.30)" font-size="10">0.8</text>
<text transform="matrix(1.1800 0 0 1.1800 302.17 310.30)" font-size="10">0.9</text>
<text transform="matrix(1.1800 0 0 1.1800 328.55 310.30)" font-size="10">EoD</text>
<text x="179.26" y="326.60" font-size="11.70" letter-spacing="0.128">DoD</text>
</svg></div>
</body></html>
